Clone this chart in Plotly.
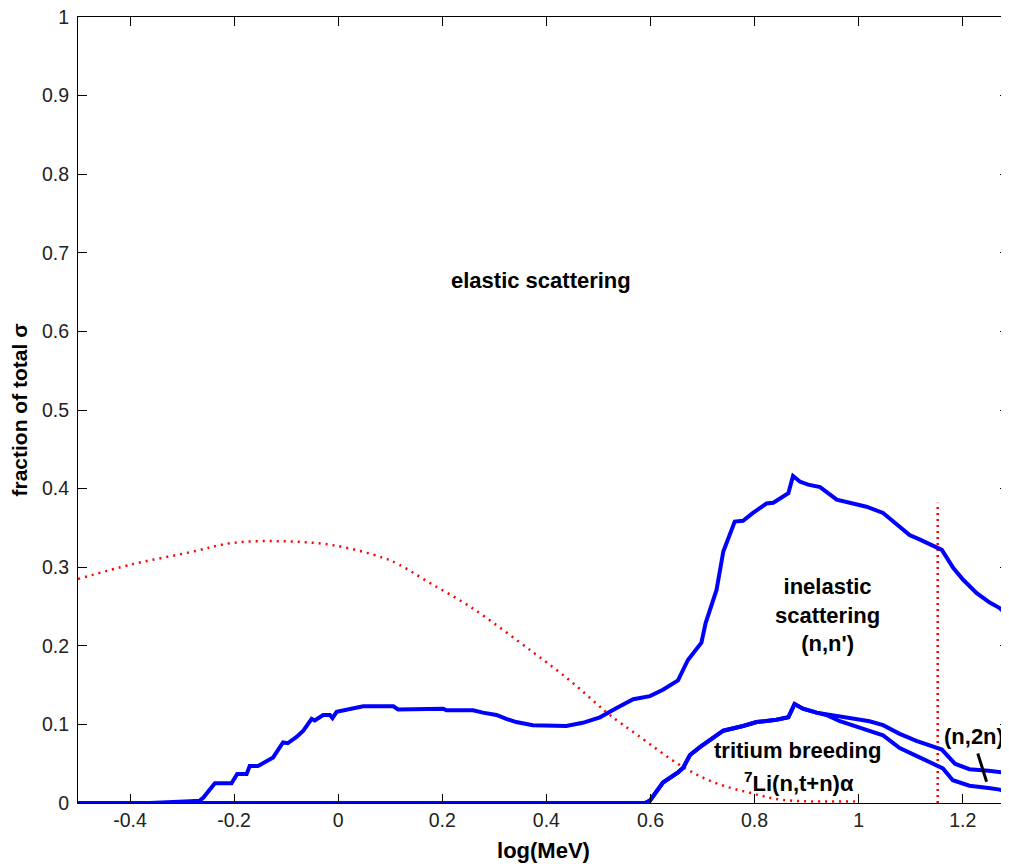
import plotly.graph_objects as go

# --- data ---
inel_x = [-0.5, -0.362, -0.295, -0.266, -0.259, -0.237, -0.205, -0.194, -0.176, -0.170,
          -0.154, -0.125, -0.119, -0.106, -0.097, -0.080, -0.067, -0.051, -0.045, -0.029,
          -0.016, -0.011, -0.003, 0.010, 0.029, 0.048, 0.086, 0.106, 0.115, 0.157,
          0.163, 0.202, 0.208, 0.259, 0.278, 0.304, 0.323, 0.342, 0.374, 0.438,
          0.470, 0.503, 0.535, 0.567, 0.599, 0.624, 0.653, 0.672, 0.698, 0.706,
          0.727, 0.740, 0.762, 0.778, 0.797, 0.823, 0.836, 0.858, 0.865, 0.874,
          0.887, 0.903, 0.926, 0.958, 0.990, 1.015, 1.047, 1.073, 1.098, 1.118,
          1.143, 1.160, 1.182, 1.201, 1.227, 1.252, 1.271, 1.289]
inel_y = [0.0, 0.0, 0.002, 0.003, 0.007, 0.025, 0.025, 0.037, 0.037, 0.047,
          0.047, 0.058, 0.064, 0.077, 0.076, 0.084, 0.092, 0.107, 0.105, 0.112,
          0.112, 0.108, 0.116, 0.118, 0.120, 0.123, 0.123, 0.123, 0.119, 0.119,
          0.120, 0.120, 0.118, 0.118, 0.115, 0.112, 0.107, 0.103, 0.099, 0.098,
          0.102, 0.109, 0.121, 0.132, 0.136, 0.144, 0.156, 0.182, 0.204, 0.229,
          0.271, 0.320, 0.358, 0.359, 0.369, 0.381, 0.382, 0.390, 0.394, 0.416,
          0.409, 0.405, 0.402, 0.386, 0.381, 0.377, 0.369, 0.354, 0.341, 0.335,
          0.328, 0.322, 0.299, 0.284, 0.267, 0.255, 0.248, 0.237]

trit_x = [-0.5, 0.590, 0.599, 0.624, 0.653, 0.663, 0.676, 0.695, 0.727, 0.740,
          0.778, 0.804, 0.842, 0.855, 0.865, 0.877, 0.893, 0.919, 0.938, 0.964,
          0.990, 1.015, 1.047, 1.079, 1.111, 1.150, 1.162, 1.181, 1.213, 1.250,
          1.271, 1.289]
trit_y = [0.0, 0.0, 0.003, 0.026, 0.039, 0.045, 0.061, 0.071, 0.086, 0.092,
          0.098, 0.103, 0.106, 0.107, 0.109, 0.126, 0.120, 0.115, 0.112, 0.104,
          0.099, 0.093, 0.086, 0.070, 0.060, 0.048, 0.044, 0.029, 0.022, 0.019,
          0.017, 0.013]

n2n_x = [-0.5, 0.590, 0.599, 0.624, 0.653, 0.663, 0.676, 0.695, 0.727, 0.740,
         0.778, 0.804, 0.842, 0.855, 0.865, 0.877, 0.893, 0.919, 0.938, 0.964,
         0.996, 1.021, 1.047, 1.079, 1.111, 1.150, 1.160, 1.185, 1.213, 1.250,
         1.288]
n2n_y = [0.0, 0.0, 0.003, 0.026, 0.039, 0.045, 0.061, 0.071, 0.086, 0.092,
         0.098, 0.103, 0.106, 0.107, 0.109, 0.126, 0.120, 0.115, 0.113, 0.109,
         0.106, 0.104, 0.099, 0.088, 0.079, 0.071, 0.068, 0.050, 0.043, 0.041,
         0.038]

flux_x = [-0.5, -0.394, -0.285, -0.202, -0.106, -0.010, 0.086, 0.118, 0.176, 0.253,
          0.374, 0.445, 0.497, 0.522, 0.574, 0.662, 0.727, 0.791, 0.854, 0.993]
flux_y = [0.285, 0.304, 0.319, 0.331, 0.333, 0.328, 0.312, 0.303, 0.280, 0.250,
          0.192, 0.156, 0.126, 0.112, 0.087, 0.046, 0.025, 0.013, 0.004, 0.002]

thresh_x = [1.152, 1.152]
thresh_y = [0.0, 0.382]

x_ticks = [-0.4, -0.2, 0, 0.2, 0.4, 0.6, 0.8, 1, 1.2]
x_tick_text = ["-0.4", "-0.2", "0", "0.2", "0.4", "0.6", "0.8", "1", "1.2"]
y_ticks = [0, 0.1, 0.2, 0.3, 0.4, 0.5, 0.6, 0.7, 0.8, 0.9, 1]
y_tick_text = ["0", "0.1", "0.2", "0.3", "0.4", "0.5", "0.6", "0.7", "0.8", "0.9", "1"]

FONT = "Liberation Sans, Arial, sans-serif"
BLUE = "#0000FF"
RED = "#FF0000"

fig = go.Figure()
fig.add_trace(go.Scatter(x=flux_x, y=flux_y, mode="lines",
                         line=dict(color=RED, width=2.5, dash="2px,5px", shape="spline")))
fig.add_trace(go.Scatter(x=thresh_x, y=thresh_y, mode="lines",
                         line=dict(color=RED, width=2.5, dash="2px,4px")))
fig.add_trace(go.Scatter(x=inel_x, y=inel_y, mode="lines", line=dict(color=BLUE, width=4)))
fig.add_trace(go.Scatter(x=n2n_x, y=n2n_y, mode="lines", line=dict(color=BLUE, width=4)))
fig.add_trace(go.Scatter(x=trit_x, y=trit_y, mode="lines", line=dict(color=BLUE, width=4)))

bold = dict(family=FONT, size=22, color="black")
ann = [
    dict(x=0.389, y=0.665, text="<b>elastic scattering</b>"),
    dict(x=0.941, y=0.239, text="<b>inelastic<br>scattering<br>(n,n')</b>"),
    dict(x=0.883, y=0.067, text="<b>tritium breeding</b>"),
    dict(x=0.885, y=0.027, text="<b><sup>7</sup>Li(n,t+n)α</b>"),
    dict(x=1.221, y=0.084, text="<b>(n,2n)</b>"),
]
for a in ann:
    fig.add_annotation(x=a["x"], y=a["y"], text=a["text"], showarrow=False,
                       font=bold, xref="x", yref="y", align="center")

fig.add_shape(type="line", x0=1.229, y0=0.063, x1=1.246, y1=0.027,
              xref="x", yref="y", line=dict(color="black", width=3))

axis_common = dict(
    showgrid=False, zeroline=False, showline=True, linecolor="black", linewidth=1,
    mirror="ticks", ticks="inside", ticklen=9, tickcolor="black", tickwidth=1,
    tickfont=dict(family=FONT, size=19.5, color="#222222"), automargin=False,
    ticklabeloverflow="allow",
)

# page body has an 8px default margin, so the figure is sized/offset to fill the window
fig.update_layout(
    width=1001, height=859,
    margin=dict(l=70, r=0, t=9, b=64),
    paper_bgcolor="white", plot_bgcolor="white",
    showlegend=False,
    font=dict(family=FONT),
    xaxis=dict(range=[-0.5, 1.289], tickvals=x_ticks, ticktext=x_tick_text,
               title=dict(text="<b>log(MeV)</b>", font=dict(family=FONT, size=22, color="black"), standoff=12),
               **axis_common),
    yaxis=dict(range=[0, 1], tickvals=y_ticks, ticktext=y_tick_text, ticklabelstandoff=4,
               title=dict(text="<b>fraction of total σ</b>", font=dict(family=FONT, size=21, color="black"), standoff=10),
               **axis_common),
)

fig.write_html("out.html")
